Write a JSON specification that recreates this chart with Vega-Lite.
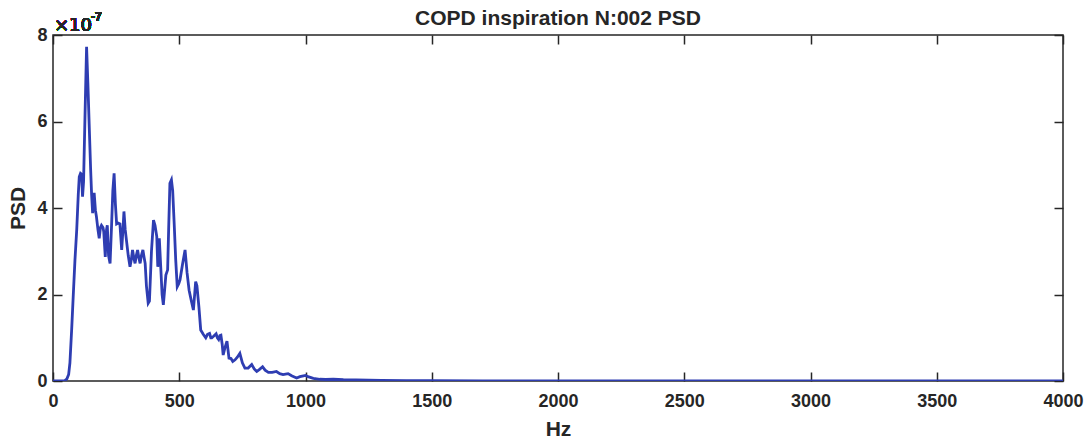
{
  "$schema": "https://vega.github.io/schema/vega-lite/v6.json",
  "width": 1010,
  "height": 346,
  "autosize": {"type": "none"},
  "padding": {"left": 53, "top": 35, "right": 26, "bottom": 61},
  "background": "white",
  "config": {
    "font": "Liberation Sans",
    "view": {"stroke": "#262626", "strokeWidth": 1.5},
    "axis": {"grid": false, "domain": false, "tickColor": "#262626", "tickWidth": 1.5, "labelColor": "#262626", "titleColor": "#262626", "labelFont": "Liberation Sans", "titleFont": "Liberation Sans", "labelFontWeight": "bold", "titleFontWeight": "bold", "labelFontSize": 18, "titleFontSize": 21}
  },
  "title": {"text": "COPD inspiration N:002 PSD", "fontSize": 21, "fontWeight": "bold", "font": "Liberation Sans", "color": "#262626", "anchor": "middle", "offset": -18},
  "data": {"values": [
    {"hz":0,"psd":0},{"hz":45,"psd":0},{"hz":55,"psd":0.05e-7},{"hz":62,"psd":0.15e-7},{"hz":67,"psd":0.42e-7},{"hz":74,"psd":1.2e-7},{"hz":80,"psd":1.95e-7},{"hz":87,"psd":2.8e-7},{"hz":94,"psd":3.5e-7},{"hz":100,"psd":4.3e-7},{"hz":104,"psd":4.72e-7},{"hz":109,"psd":4.8e-7},{"hz":113,"psd":4.78e-7},{"hz":117,"psd":4.26e-7},{"hz":121,"psd":4.6e-7},{"hz":127,"psd":6.2e-7},{"hz":133,"psd":7.73e-7},{"hz":138,"psd":6.9e-7},{"hz":144,"psd":5.8e-7},{"hz":149,"psd":4.9e-7},{"hz":153,"psd":4.3e-7},{"hz":157,"psd":3.88e-7},{"hz":163,"psd":4.35e-7},{"hz":168,"psd":3.95e-7},{"hz":172,"psd":3.8e-7},{"hz":178,"psd":3.5e-7},{"hz":183,"psd":3.3e-7},{"hz":188,"psd":3.55e-7},{"hz":192,"psd":3.6e-7},{"hz":198,"psd":3.55e-7},{"hz":201,"psd":3.45e-7},{"hz":207,"psd":2.87e-7},{"hz":212,"psd":3.5e-7},{"hz":215,"psd":3.6e-7},{"hz":220,"psd":2.9e-7},{"hz":226,"psd":2.72e-7},{"hz":232,"psd":3.6e-7},{"hz":237,"psd":4.4e-7},{"hz":242,"psd":4.8e-7},{"hz":247,"psd":4.1e-7},{"hz":252,"psd":3.63e-7},{"hz":258,"psd":3.65e-7},{"hz":265,"psd":3.63e-7},{"hz":272,"psd":3.03e-7},{"hz":277,"psd":3.5e-7},{"hz":281,"psd":3.92e-7},{"hz":286,"psd":3.5e-7},{"hz":292,"psd":3.2e-7},{"hz":298,"psd":2.9e-7},{"hz":305,"psd":2.64e-7},{"hz":310,"psd":2.8e-7},{"hz":315,"psd":3.03e-7},{"hz":320,"psd":2.85e-7},{"hz":325,"psd":2.72e-7},{"hz":330,"psd":2.9e-7},{"hz":335,"psd":3.03e-7},{"hz":340,"psd":2.85e-7},{"hz":345,"psd":2.72e-7},{"hz":350,"psd":2.9e-7},{"hz":356,"psd":3.03e-7},{"hz":361,"psd":2.85e-7},{"hz":365,"psd":2.72e-7},{"hz":370,"psd":2.2e-7},{"hz":377,"psd":1.8e-7},{"hz":382,"psd":1.85e-7},{"hz":390,"psd":3.0e-7},{"hz":398,"psd":3.72e-7},{"hz":404,"psd":3.6e-7},{"hz":411,"psd":3.34e-7},{"hz":415,"psd":2.64e-7},{"hz":421,"psd":3.3e-7},{"hz":427,"psd":2.6e-7},{"hz":432,"psd":2.0e-7},{"hz":437,"psd":1.76e-7},{"hz":442,"psd":2.1e-7},{"hz":447,"psd":2.45e-7},{"hz":454,"psd":2.57e-7},{"hz":458,"psd":3.5e-7},{"hz":463,"psd":4.57e-7},{"hz":469,"psd":4.65e-7},{"hz":474,"psd":4.4e-7},{"hz":480,"psd":3.63e-7},{"hz":486,"psd":2.8e-7},{"hz":492,"psd":2.18e-7},{"hz":498,"psd":2.25e-7},{"hz":503,"psd":2.34e-7},{"hz":513,"psd":2.7e-7},{"hz":523,"psd":3.03e-7},{"hz":531,"psd":2.5e-7},{"hz":539,"psd":2.1e-7},{"hz":548,"psd":1.85e-7},{"hz":556,"psd":1.64e-7},{"hz":561,"psd":2.0e-7},{"hz":565,"psd":2.3e-7},{"hz":570,"psd":2.2e-7},{"hz":578,"psd":1.7e-7},{"hz":585,"psd":1.18e-7},{"hz":595,"psd":1.08e-7},{"hz":605,"psd":1.0e-7},{"hz":612,"psd":1.08e-7},{"hz":620,"psd":1.1e-7},{"hz":625,"psd":1.0e-7},{"hz":629,"psd":1.0e-7},{"hz":637,"psd":1.04e-7},{"hz":646,"psd":1.09e-7},{"hz":651,"psd":1.0e-7},{"hz":656,"psd":0.96e-7},{"hz":661,"psd":1.05e-7},{"hz":665,"psd":1.06e-7},{"hz":670,"psd":0.85e-7},{"hz":674,"psd":0.6e-7},{"hz":680,"psd":0.75e-7},{"hz":689,"psd":0.92e-7},{"hz":697,"psd":0.53e-7},{"hz":705,"psd":0.52e-7},{"hz":712,"psd":0.45e-7},{"hz":721,"psd":0.49e-7},{"hz":730,"psd":0.55e-7},{"hz":740,"psd":0.64e-7},{"hz":750,"psd":0.42e-7},{"hz":760,"psd":0.3e-7},{"hz":773,"psd":0.3e-7},{"hz":787,"psd":0.38e-7},{"hz":797,"psd":0.28e-7},{"hz":807,"psd":0.22e-7},{"hz":818,"psd":0.27e-7},{"hz":830,"psd":0.33e-7},{"hz":840,"psd":0.25e-7},{"hz":853,"psd":0.2e-7},{"hz":868,"psd":0.2e-7},{"hz":885,"psd":0.22e-7},{"hz":898,"psd":0.17e-7},{"hz":911,"psd":0.15e-7},{"hz":921,"psd":0.16e-7},{"hz":931,"psd":0.17e-7},{"hz":945,"psd":0.12e-7},{"hz":965,"psd":0.07e-7},{"hz":978,"psd":0.1e-7},{"hz":992,"psd":0.12e-7},{"hz":1000,"psd":0.13e-7},{"hz":1010,"psd":0.1e-7},{"hz":1031,"psd":0.06e-7},{"hz":1057,"psd":0.04e-7},{"hz":1080,"psd":0.035e-7},{"hz":1110,"psd":0.04e-7},{"hz":1150,"psd":0.03e-7},{"hz":1200,"psd":0.025e-7},{"hz":1250,"psd":0.02e-7},{"hz":1300,"psd":0.015e-7},{"hz":1400,"psd":0.01e-7},{"hz":1500,"psd":0.006e-7},{"hz":1700,"psd":0.004e-7},{"hz":2000,"psd":0.003e-7},{"hz":2500,"psd":0.002e-7},{"hz":3000,"psd":0.001e-7},{"hz":3500,"psd":0.001e-7},{"hz":4000,"psd":0}
  ]},
  "layer": [
    {
      "mark": {"type": "line", "color": "#2E3DB2", "strokeWidth": 2.8, "clip": true},
      "encoding": {
        "x": {"field": "hz", "type": "quantitative", "scale": {"domain": [0, 4000], "nice": false}, "axis": {"orient": "bottom", "title": "Hz", "format": "d", "values": [0,500,1000,1500,2000,2500,3000,3500,4000], "tickSize": -9, "labelPadding": 20, "titlePadding": 8, "labelFlush": false}},
        "y": {"field": "psd", "type": "quantitative", "scale": {"domain": [0, 8e-7], "nice": false, "zero": true}, "axis": {"orient": "left", "title": "PSD", "values": [0, 2e-7, 4e-7, 6e-7, 8e-7], "labelExpr": "format(round(datum.value*1e7),'d')", "tickSize": -9, "labelPadding": 15, "titlePadding": 8, "labelFlush": false}}
      }
    },
    {
      "mark": {"type": "line", "opacity": 0},
      "encoding": {
        "x": {"field": "hz", "type": "quantitative", "axis": {"orient": "top", "title": null, "labels": false, "values": [0,500,1000,1500,2000,2500,3000,3500,4000], "tickSize": -9}},
        "y": {"field": "psd", "type": "quantitative", "axis": {"orient": "right", "title": null, "labels": false, "values": [0, 2e-7, 4e-7, 6e-7, 8e-7], "tickSize": -9}}
      }
    },
    {
      "mark": {"type": "text", "text": "×10", "align": "left", "baseline": "alphabetic", "fontSize": 18, "font": "DejaVu Sans", "color": "#262626", "dy": -4, "dx": 1},
      "encoding": {
        "x": {"datum": 0, "type": "quantitative", "axis": null},
        "y": {"datum": 8e-7, "type": "quantitative", "axis": null}
      }
    },
    {
      "mark": {"type": "text", "text": "-7", "align": "left", "baseline": "alphabetic", "fontSize": 12, "font": "Liberation Sans", "fontWeight": "bold", "color": "#262626", "dy": -14, "dx": 38},
      "encoding": {
        "x": {"datum": 0, "type": "quantitative", "axis": null},
        "y": {"datum": 8e-7, "type": "quantitative", "axis": null}
      }
    }
  ],
  "resolve": {"axis": {"x": "independent", "y": "independent"}}
}
